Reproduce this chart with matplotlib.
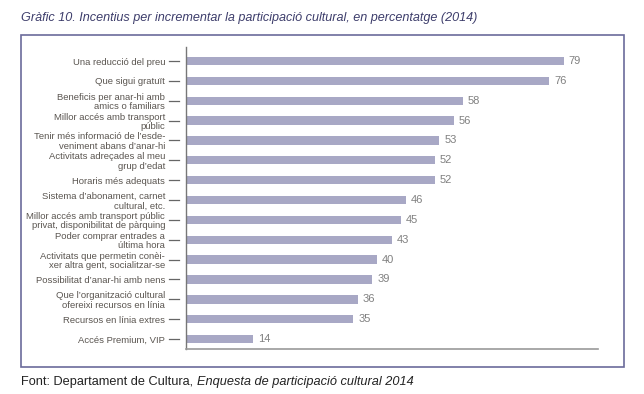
import matplotlib
matplotlib.use("Agg")
import matplotlib.pyplot as plt
from matplotlib.patches import Rectangle

categories = [
    "Una reducció del preu",
    "Que sigui gratuït",
    "Beneficis per anar-hi amb\namics o familiars",
    "Millor accés amb transport\npúblic",
    "Tenir més informació de l’esde-\nveniment abans d’anar-hi",
    "Activitats adreçades al meu\ngrup d’edat",
    "Horaris més adequats",
    "Sistema d’abonament, carnet\ncultural, etc.",
    "Millor accés amb transport públic\nprivat, disponibilitat de pàrquing",
    "Poder comprar entrades a\núltima hora",
    "Activitats que permetin conèi-\nxer altra gent, socialitzar-se",
    "Possibilitat d’anar-hi amb nens",
    "Que l’organització cultural\nofereixi recursos en línia",
    "Recursos en línia extres",
    "Accés Premium, VIP",
]
values = [79, 76, 58, 56, 53, 52, 52, 46, 45, 43, 40, 39, 36, 35, 14]

title = "Gràfic 10. Incentius per incrementar la participació cultural, en percentatge (2014)"
source_plain = "Font: Departament de Cultura, "
source_italic = "Enquesta de participació cultural 2014"

plt.rcParams['font.family'] = ['Liberation Sans', 'DejaVu Sans']

W, H = 644, 394
fig = plt.figure(figsize=(W / 100, H / 100), dpi=100)

# outer frame
fig.patches.append(Rectangle((21 / W, 1 - 367 / H), (624 - 21) / W, (367 - 35) / H,
                             transform=fig.transFigure, fill=False,
                             edgecolor="#6b6b9b", linewidth=1.2))

ax = fig.add_axes([186 / W, 1 - 349 / H, (598 - 186) / W, (349 - 47) / H])
ypos = list(range(len(values)))
bar_color = "#a8a8c5"
ax.barh(ypos, values, height=0.42, color=bar_color)
ax.set_xlim(0, 86.2)
ax.set_ylim(len(values) - 0.5, -0.705)

for y, v in zip(ypos, values):
    ax.annotate(f"{v}", (v, y), xytext=(3.5, 0), textcoords="offset points",
                va="center", ha="left", fontsize=8, color="#808080")

ax.set_yticks(ypos)
ax.set_yticklabels(categories, fontsize=6.8, color="#5a5550", linespacing=1.05)
ax.tick_params(axis="y", length=0, pad=15)
ax.set_xticks([])
for s in ["top", "right"]:
    ax.spines[s].set_visible(False)
ax.spines["left"].set_color("#777777")
ax.spines["bottom"].set_color("#999999")
ax.spines["left"].set_linewidth(1.0)
ax.spines["bottom"].set_linewidth(1.2)

# tick dashes detached from the spine
ytr = ax.get_yaxis_transform()
for y in ypos:
    ax.plot([-0.0413, -0.017], [y, y], transform=ytr, color="#666666",
            linewidth=0.9, clip_on=False)

fig.text(21 / W, 1 - 18 / H, title, fontsize=9.1, style="italic",
         color="#3d3d6b", va="center", ha="left")

t1 = fig.text(21 / W, 1 - 382 / H, source_plain, fontsize=9.2, color="#222222",
              va="center", ha="left")
ax.annotate(source_italic, xy=(1, 0.5), xycoords=t1, va="center", ha="left",
            fontsize=9.2, style="italic", color="#222222",
            annotation_clip=False)

fig.savefig("out.png", dpi=100)
